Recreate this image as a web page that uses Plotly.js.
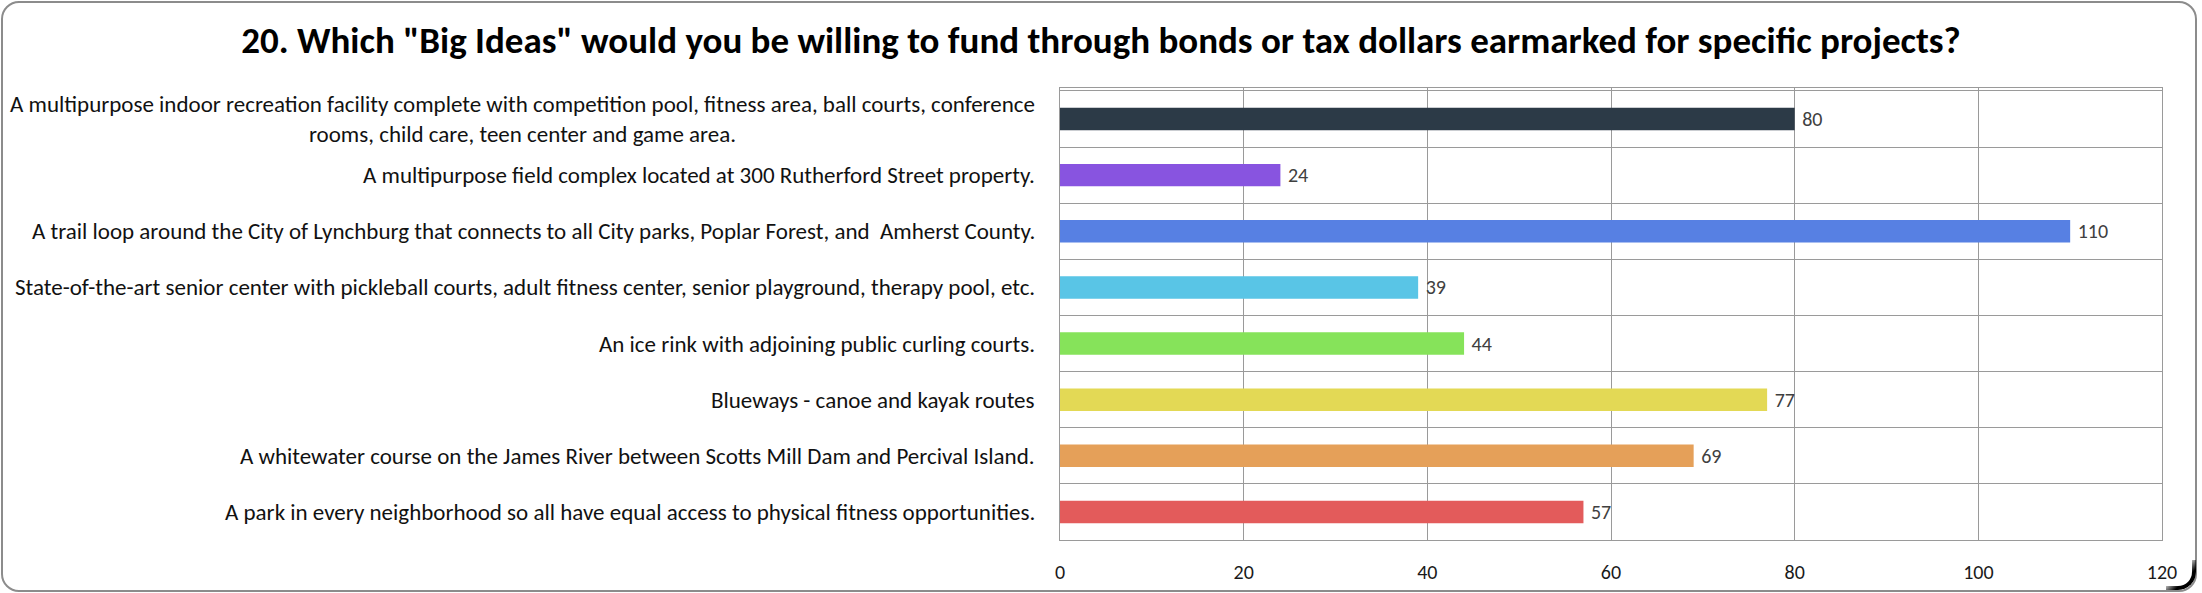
<!DOCTYPE html>
<html>
<head>
<meta charset="utf-8">
<script src="https://cdn.plot.ly/plotly-3.0.1.min.js"></script>
<style>
  html, body { margin: 0; padding: 0; background: #ffffff; }
  #wrap { position: relative; width: 2202px; height: 593px; overflow: hidden; }
  #chart { position: absolute; left: 0; top: 0; width: 2202px; height: 593px; }
  #frame { position: absolute; left: 1px; top: 1px; width: 2192px; height: 587px;
           border: 2px solid #8c8c8c; border-radius: 18px; pointer-events: none; }
  #corner { position: absolute; left: 2166px; top: 560px; width: 30px; height: 30px;
            border-right: 4px solid #000; border-bottom: 4px solid #000;
            border-bottom-right-radius: 18px; pointer-events: none; box-sizing: border-box;
            -webkit-mask-image: linear-gradient(135deg, transparent 35%, #000 65%);
            mask-image: linear-gradient(135deg, transparent 35%, #000 65%); }
</style>
</head>
<body>
<div id="wrap">
  <div id="chart"></div>
  <div id="frame"></div>
  <div id="corner"></div>
</div>
<script>
const titleText = '20. Which "Big Ideas" would you be willing to fund through bonds or tax dollars earmarked for specific projects?';
const categories = [
  'A multipurpose indoor recreation facility complete with competition pool, fitness area, ball courts, conference<br>rooms, child care, teen center and game area.',
  'A multipurpose field complex located at 300 Rutherford Street property.',
  'A trail loop around the City of Lynchburg that connects to all City parks, Poplar Forest, and  Amherst County.',
  'State-of-the-art senior center with pickleball courts, adult fitness center, senior playground, therapy pool, etc.',
  'An ice rink with adjoining public curling courts.',
  'Blueways - canoe and kayak routes',
  'A whitewater course on the James River between Scotts Mill Dam and Percival Island.',
  'A park in every neighborhood so all have equal access to physical fitness opportunities.'
];
const values = [80, 24, 110, 39, 44, 77, 69, 57];
const barColors = ['#2C3A47', '#8854E0', '#5780E3', '#59C5E6', '#86E35A', '#E3D955', '#E5A059', '#E35B5B'];
const xTicks = [0, 20, 40, 60, 80, 100, 120];

const FONT = 'Carlito, Calibri, Lato, sans-serif';

const trace = {
  type: 'bar',
  orientation: 'h',
  y: categories,
  x: values,
  width: 0.4,
  marker: { color: barColors },
  text: values.map(v => ' ' + v),
  textposition: 'outside',
  constraintext: 'none',
  cliponaxis: false,
  textfont: { family: FONT, size: 20, color: '#404040' },
  hoverinfo: 'x+y'
};

const annotations = categories.map(c => ({
  text: c,
  xref: 'paper', yref: 'y',
  x: -0.0209, y: c,
  xanchor: 'right', yanchor: 'middle',
  align: 'center',
  showarrow: false,
  font: { family: FONT, size: 23, color: '#111111' }
}));

const layout = {
  width: 2202, height: 593,
  margin: { l: 1060, r: 40, t: 88, b: 53 },
  paper_bgcolor: '#ffffff',
  plot_bgcolor: '#ffffff',
  showlegend: false,
  title: {
    text: '<b>' + titleText + '</b>',
    font: { family: FONT, size: 37, color: '#000000' },
    x: 0.5, xanchor: 'center', xref: 'container',
    y: 1 - 40 / 593, yanchor: 'middle', yref: 'container'
  },
  xaxis: {
    range: [0, 120],
    tickvals: xTicks,
    ticktext: xTicks.map(String),
    showgrid: true, gridcolor: '#9a9a9a', gridwidth: 1,
    zeroline: false,
    showline: true, linecolor: '#9a9a9a', linewidth: 1, mirror: true,
    ticks: '',
    ticklabelstandoff: 14,
    tickfont: { family: FONT, size: 20, color: '#1a1a1a' },
    fixedrange: true
  },
  yaxis: {
    type: 'category',
    autorange: 'reversed',
    tickson: 'boundaries',
    showgrid: true, gridcolor: '#9a9a9a', gridwidth: 1,
    showline: true, linecolor: '#9a9a9a', linewidth: 1, mirror: true,
    ticks: '',
    showticklabels: false,
    fixedrange: true
  },
  annotations: annotations
};

Plotly.newPlot('chart', [trace], layout, { displayModeBar: false, staticPlot: true });
</script>
</body>
</html>
